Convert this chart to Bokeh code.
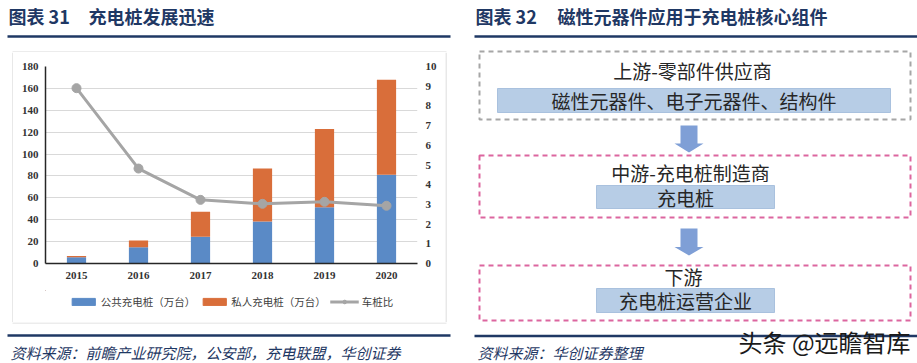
from bokeh.plotting import figure
from bokeh.models import (Range1d, FactorRange, LinearAxis, FixedTicker,
                          Legend, LegendItem, ColumnDataSource)
from bokeh.layouts import row, column
from bokeh.core.properties import value
from bokeh.embed import file_html
from bokeh.resources import INLINE

# ---------------- data ----------------
years = ["2015", "2016", "2017", "2018", "2019", "2020"]
public_piles = [5.8, 14.9, 24.4, 38.4, 51.5, 81.0]      # 公共充电桩（万台）
private_piles = [1.0, 6.2, 22.8, 48.4, 71.3, 86.9]      # 私人充电桩（万台）
vehicle_pile_ratio = [8.90, 4.82, 3.23, 3.03, 3.13, 2.93]  # 车桩比
left_ticks = [0, 20, 40, 60, 80, 100, 120, 140, 160, 180]
right_ticks = [0, 1, 2, 3, 4, 5, 6, 7, 8, 9, 10]
series_labels = ["公共充电桩（万台）", "私人充电桩（万台）", "车桩比"]

chart_no = "图表 31"
chart_title = "充电桩发展迅速"
chart_source = "资料来源：前瞻产业研究院，公安部，充电联盟，华创证券"
flow_no = "图表 32"
flow_title = "磁性元器件应用于充电桩核心组件"
flow_stage_titles = ["上游-零部件供应商", "中游-充电桩制造商", "下游"]
flow_stage_items = ["磁性元器件、电子元器件、结构件", "充电桩", "充电桩运营企业"]
flow_source = "资料来源：华创证券整理"
watermark = "头条 @远瞻智库"

# ---------------- styles ----------------
NAVY = "#1F3864"
BLUE = "#5A8AC6"
ORANGE = "#D96E3A"
GRAY_LINE = "#A5A5A5"
BOX_GRAY = "#D9D9D9"
CJK = value("Noto Sans CJK SC")
CJK_NAME = "Noto Sans CJK SC"
SERIF_NAME = "Liberation Serif"


def canvas(w, h):
    f = figure(width=w, height=h, x_range=Range1d(0, w), y_range=Range1d(h, 0),
               output_backend="svg", toolbar_location=None,
               x_axis_type=None, y_axis_type=None, outline_line_color=None,
               min_border=0, min_border_left=0, min_border_right=0,
               min_border_top=0, min_border_bottom=0,
               background_fill_color="white", border_fill_color="white")
    return f


# ---------------- left: header ----------------
T = canvas(468, 52)
T.text(x=[8], y=[15], text=[chart_no], text_font=CJK, text_font_size="18px",
       text_font_style="bold", text_color=NAVY, text_baseline="middle")
T.text(x=[88], y=[15], text=[chart_title], text_font=CJK, text_font_size="18px",
       text_font_style="bold", text_color=NAVY, text_baseline="middle")
T.segment(x0=[7], y0=[36], x1=[450], y1=[36], line_color=NAVY, line_width=2.5)
T.segment(x0=[12], y0=[51.5], x1=[446], y1=[51.5], line_color=BOX_GRAY, line_width=1.2)

# box side strips
L = canvas(13, 270)
L.segment(x0=[12.5], y0=[0], x1=[12.5], y1=[270], line_color=BOX_GRAY, line_width=1.2)
R = canvas(23, 270)
R.segment(x0=[0.5], y0=[0], x1=[0.5], y1=[270], line_color=BOX_GRAY, line_width=1.2)

# ---------------- left: chart ----------------
src = ColumnDataSource(dict(year=years, public=public_piles, private=private_piles,
                            ratio=vehicle_pile_ratio))
C = figure(width=432, height=238, x_range=FactorRange(factors=years),
           y_range=Range1d(0, 180), output_backend="svg", toolbar_location=None,
           min_border_left=32, min_border_right=28, min_border_top=14,
           min_border_bottom=27, outline_line_color=None)
C.extra_y_ranges = {"ratio": Range1d(0, 10)}

bars = C.vbar_stack(["public", "private"], x="year", width=0.31, source=src,
                    color=[BLUE, ORANGE], line_color=None)
ln = C.line(x="year", y="ratio", source=src, y_range_name="ratio",
            line_color=GRAY_LINE, line_width=3)
pts = C.scatter(x="year", y="ratio", source=src, y_range_name="ratio",
                size=9, fill_color=GRAY_LINE, line_color=GRAY_LINE)

C.xgrid.visible = False
C.ygrid.grid_line_color = "#D9D9D9"
C.ygrid.grid_line_width = 1.2
C.ygrid.ticker = FixedTicker(ticks=left_ticks)


def style_axis(ax, standoff):
    ax.major_tick_line_color = None
    ax.minor_tick_line_color = None
    ax.major_tick_out = 0
    ax.major_tick_in = 0
    ax.major_label_standoff = standoff
    ax.major_label_text_font = SERIF_NAME
    ax.major_label_text_font_size = "11px"
    ax.major_label_text_font_style = "bold"
    ax.major_label_text_color = "#333333"


yl = C.yaxis[0]
yl.ticker = FixedTicker(ticks=left_ticks)
yl.axis_line_color = "#262626"
yl.axis_line_width = 1.5
style_axis(yl, 7)

xa = C.xaxis[0]
xa.axis_line_color = "#262626"
xa.axis_line_width = 1.5
style_axis(xa, 8)

yr = LinearAxis(y_range_name="ratio", ticker=FixedTicker(ticks=right_ticks))
yr.axis_line_color = None
style_axis(yr, 8)
C.add_layout(yr, "right")

# ---------------- left: legend strip ----------------
Lg = canvas(432, 32)
off = [-1000]  # legend swatches only, kept outside the visible area
lg_bar1 = Lg.vbar(x=off, top=off, width=1, color=BLUE)
lg_bar2 = Lg.vbar(x=off, top=off, width=1, color=ORANGE)
lg_line = Lg.line(x=[-1000, -999], y=[-1000, -1000], line_color=GRAY_LINE, line_width=3)
lg_pts = Lg.scatter(x=off, y=off, size=9, fill_color=GRAY_LINE, line_color=GRAY_LINE)
legend = Legend(items=[LegendItem(label=series_labels[0], renderers=[lg_bar1]),
                       LegendItem(label=series_labels[1], renderers=[lg_bar2]),
                       LegendItem(label=series_labels[2], renderers=[lg_line, lg_pts])],
                orientation="horizontal", location="top_center",
                glyph_width=29, glyph_height=9, label_standoff=3, spacing=4,
                padding=2, margin=4, border_line_color=None,
                background_fill_alpha=0,
                label_text_font=CJK_NAME, label_text_font_size="10.5px",
                label_text_color="#404040")
Lg.add_layout(legend)

# ---------------- left: footer ----------------
B = canvas(468, 41)
B.segment(x0=[12], y0=[0.5], x1=[446], y1=[0.5], line_color=BOX_GRAY, line_width=1.2)
B.segment(x0=[7], y0=[13], x1=[450], y1=[13], line_color=NAVY, line_width=2.5)
B.text(x=[10], y=[30], text=[chart_source], text_font=CJK, text_font_size="15px",
       text_font_style="italic", text_color=NAVY, text_baseline="middle")

left = column(T, row(L, column(C, Lg), R), B)

# ---------------- right: flow diagram ----------------
D = canvas(449, 363)
D.text(x=[7], y=[15], text=[flow_no], text_font=CJK, text_font_size="18px",
       text_font_style="bold", text_color=NAVY, text_baseline="middle")
D.text(x=[89], y=[15], text=[flow_title], text_font=CJK, text_font_size="18px",
       text_font_style="bold", text_color=NAVY, text_baseline="middle")
D.segment(x0=[6], y0=[36], x1=[449], y1=[36], line_color=NAVY, line_width=2.5)

# stage boxes (positions)
box_top = [51, 155, 265]
box_bottom = [119, 217, 320]
box_color = ["#A6A6A6", "#DC669F", "#DC669F"]
D.quad(left=[11, 11, 11], right=[442, 442, 442], top=box_top, bottom=box_bottom,
       fill_color=None, line_color=box_color, line_width=2, line_dash="5 4")

title_x = [224, 222, 215]
title_y = [70, 172, 276]
D.text(x=title_x, y=title_y, text=flow_stage_titles, text_font=CJK,
       text_font_size="19px", text_color="#262626", text_align="center",
       text_baseline="middle")

inner_left = [29, 128, 128]
inner_right = [422, 306, 306]
inner_top = [88, 185, 288]
inner_bottom = [112, 208, 312]
D.quad(left=inner_left, right=inner_right, top=inner_top, bottom=inner_bottom,
       fill_color="#B7CDE6", line_color="#A9C1DE", line_width=1)
item_x = [(a + b) / 2 for a, b in zip(inner_left, inner_right)]
item_y = [(a + b) / 2 for a, b in zip(inner_top, inner_bottom)]
D.text(x=item_x, y=item_y, text=flow_stage_items, text_font=CJK,
       text_font_size="19px", text_color="#262626", text_align="center",
       text_baseline="middle")

# arrows
arrow_cx = 220.5
arrow_top = [125, 228]
arrow_neck = [143, 246.5]
arrow_tip = [152, 255]
sw, hw = 8.5, 14.5
xs, ys = [], []
for t, n, p in zip(arrow_top, arrow_neck, arrow_tip):
    xs.append([arrow_cx - sw, arrow_cx + sw, arrow_cx + sw, arrow_cx + hw,
               arrow_cx, arrow_cx - hw, arrow_cx - sw])
    ys.append([t, t, n, n, p, n, n])
D.patches(xs=xs, ys=ys, fill_color="#7F9FD6", line_color=None)

D.segment(x0=[6], y0=[335.5], x1=[449], y1=[335.5], line_color=NAVY, line_width=2.5)
D.text(x=[9], y=[352], text=[flow_source], text_font=CJK, text_font_size="15px",
       text_font_style="italic", text_color=NAVY, text_baseline="middle")
D.text(x=[270], y=[341], text=[watermark], text_font=CJK, text_font_size="24px",
       text_color="#1A1A1A", text_baseline="middle")

layout = row(left, D)

with open("out.html", "w") as fh:
    fh.write(file_html(layout, INLINE))
